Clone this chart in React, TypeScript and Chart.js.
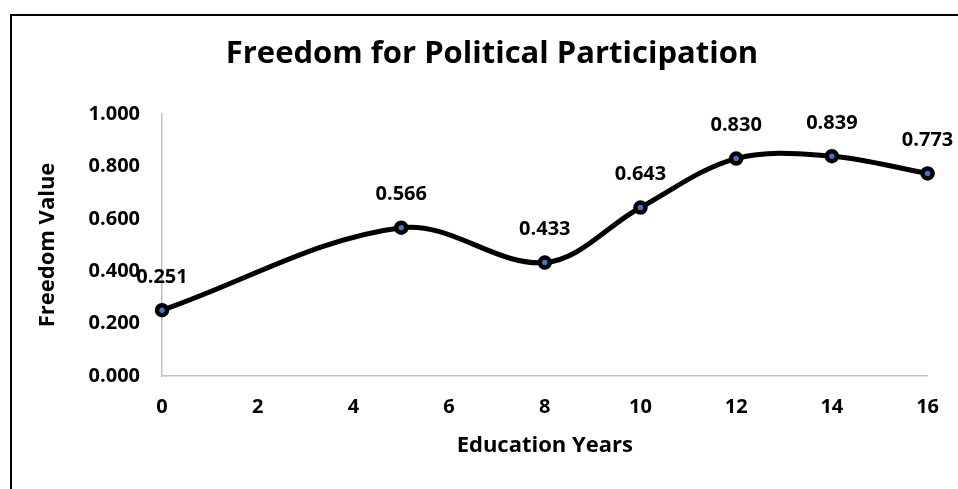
import React, { useEffect, useRef } from "react";
import { Chart, registerables } from "chart.js";

Chart.register(...registerables);

// Education years (x) and the freedom value measured at each one (y)
const educationYears = [0, 5, 8, 10, 12, 14, 16];
const freedomValues = [0.251, 0.566, 0.433, 0.643, 0.83, 0.839, 0.773];

// Axis ranges and tick steps
const xRange = [0, 16];
const xStep = 2;
const yRange = [0, 1];
const yStep = 0.2;

const chartTitle = "Freedom for Political Participation";
const xTitle = "Education Years";
const yTitle = "Freedom Value";

const FONT = "'Open Sans', Lato, 'Noto Sans', sans-serif";

// Writes each point's value above its marker
const valueLabels = {
  id: "valueLabels",
  afterDatasetsDraw(chart: any) {
    const { ctx } = chart;
    const meta = chart.getDatasetMeta(0);
    const values = chart.data.datasets[0].data as { x: number; y: number }[];
    ctx.save();
    ctx.font = `bold 20px ${FONT}`;
    ctx.fillStyle = "#000";
    ctx.textAlign = "center";
    ctx.textBaseline = "middle";
    meta.data.forEach((el: any, i: number) => {
      ctx.fillText(values[i].y.toFixed(3), el.x, el.y - 33);
    });
    ctx.restore();
  },
};

export default function App() {
  const canvasRef = useRef<HTMLCanvasElement | null>(null);

  useEffect(() => {
    if (!canvasRef.current) return;
    const chart = new Chart(canvasRef.current, {
      type: "line",
      data: {
        datasets: [
          {
            data: educationYears.map((x, i) => ({ x, y: freedomValues[i] })),
            borderColor: "#000",
            borderWidth: 5,
            tension: 0.35,
            pointRadius: 5,
            pointHoverRadius: 5,
            pointBorderWidth: 4.5,
            pointBackgroundColor: "#4472C4",
            pointBorderColor: "#000",
            clip: false as any,
            fill: false,
          },
        ],
      },
      options: {
        responsive: false,
        animation: false,
        layout: { padding: { left: 54, right: 28, top: 0, bottom: 0 } },
        plugins: {
          legend: { display: false },
          tooltip: { enabled: false },
          title: {
            display: true,
            text: chartTitle,
            color: "#000",
            font: { family: FONT, size: 31, weight: "bold", lineHeight: 1.2 },
            padding: { top: 36, bottom: 40.8 },
          },
        },
        scales: {
          x: {
            type: "linear",
            min: xRange[0],
            max: xRange[1],
            grid: { display: true, color: "rgba(0,0,0,0)", drawTicks: false },
            border: { display: true, color: "#bfbfbf", width: 1.5 },
            ticks: {
              stepSize: xStep,
              color: "#000",
              padding: 19,
              font: { family: FONT, size: 20, weight: "bold" },
            },
            title: {
              display: true,
              text: xTitle,
              color: "#000",
              font: { family: FONT, size: 22, weight: "bold", lineHeight: 1.2 },
              padding: { top: 0, bottom: 30 },
            },
            afterFit(scale: any) {
              scale.height = 113;
            },
          },
          y: {
            type: "linear",
            min: yRange[0],
            max: yRange[1],
            grid: { display: true, color: "rgba(0,0,0,0)", drawTicks: false },
            border: { display: true, color: "#bfbfbf", width: 1.5 },
            ticks: {
              stepSize: yStep,
              color: "#000",
              padding: 22,
              font: { family: FONT, size: 20, weight: "bold" },
              callback: (v: any) => Number(v).toFixed(3),
            },
            title: {
              display: true,
              text: yTitle,
              color: "#000",
              font: { family: FONT, size: 22, weight: "bold", lineHeight: 1.2 },
              // the axis title sits out in the left margin, beside the tick labels
              padding: { top: -19, bottom: 0 },
            },
            afterFit(scale: any) {
              scale.width = 108;
            },
          },
        },
      },
      plugins: [valueLabels],
    });
    return () => chart.destroy();
  }, []);

  return (
    <div>
      <div
        style={{
          position: "fixed",
          left: 10,
          top: 14,
          width: 1000,
          height: 600,
          border: "2px solid #000",
          background: "#fff",
        }}
      />
      <canvas
        ref={canvasRef}
        width={958}
        height={489}
        style={{ position: "fixed", left: 0, top: 0, width: 958, height: 489 }}
      />
    </div>
  );
}
